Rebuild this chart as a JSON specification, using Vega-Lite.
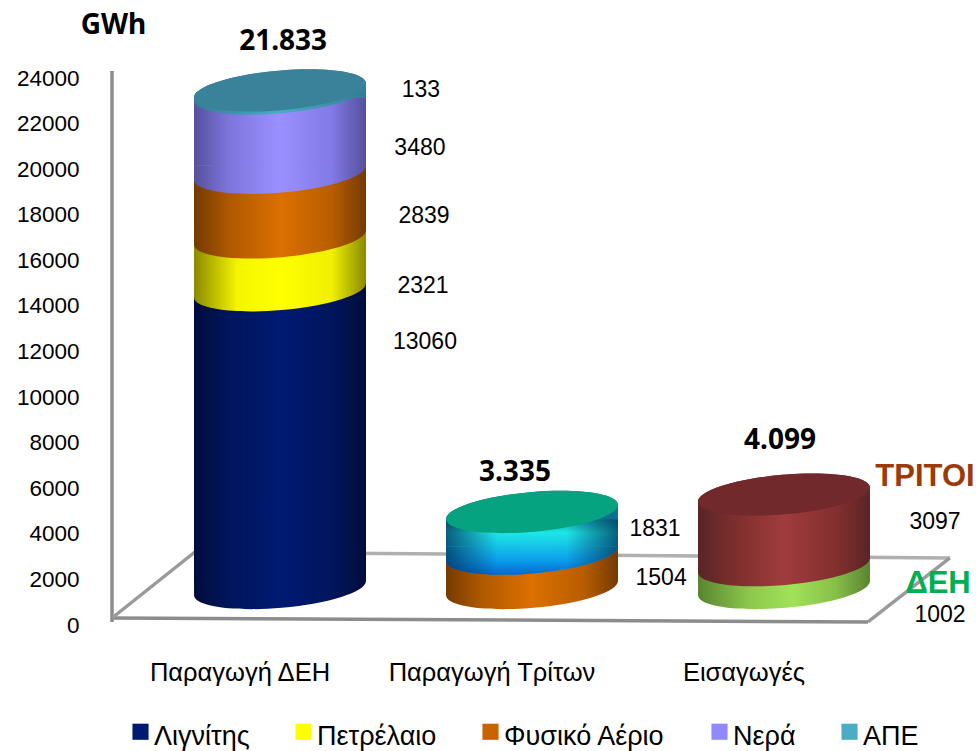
{"$schema":"https://vega.github.io/schema/vega-lite/v6.json","autosize":{"type":"none"},"padding":{"left":112,"top":78,"right":108,"bottom":126},"width":756,"height":547,"background":"white","config":{"view":{"stroke":null}},
"datasets":{
"energy":[
{"cat":"Παραγωγή ΔΕΗ","source":"Λιγνίτης","order":1,"value":13060},
{"cat":"Παραγωγή ΔΕΗ","source":"Πετρέλαιο","order":2,"value":2321},
{"cat":"Παραγωγή ΔΕΗ","source":"Φυσικό Αέριο","order":3,"value":2839},
{"cat":"Παραγωγή ΔΕΗ","source":"Νερά","order":4,"value":3480},
{"cat":"Παραγωγή ΔΕΗ","source":"ΑΠΕ","order":5,"value":133},
{"cat":"Παραγωγή Τρίτων","source":"Φυσικό Αέριο","order":1,"value":1504},
{"cat":"Παραγωγή Τρίτων","source":"Τρίτων","order":2,"value":1831},
{"cat":"Εισαγωγές","source":"ΔΕΗ","order":1,"value":1002},
{"cat":"Εισαγωγές","source":"ΤΡΙΤΟΙ","order":2,"value":3097}],
"floor":[
{"edge":"wall","u":0,"v":132},{"edge":"wall","u":0,"v":24309},
{"edge":"front","u":0,"v":307},{"edge":"front","u":3,"v":132},
{"edge":"left","u":0,"v":307},{"edge":"left","u":0.329,"v":3203},
{"edge":"back","u":0.329,"v":3203},{"edge":"back","u":3.325,"v":2940},
{"edge":"right","u":3.325,"v":2940},{"edge":"right","u":3,"v":132}],
"notes":[
{"text":"133","kind":"num","u":1.226,"v":23475},
{"text":"3480","kind":"num","u":1.222,"v":20930},
{"text":"2839","kind":"num","u":1.238,"v":17946},
{"text":"2321","kind":"num","u":1.234,"v":14875},
{"text":"13060","kind":"num","u":1.242,"v":12418},
{"text":"1831","kind":"num","u":2.155,"v":4212},
{"text":"1504","kind":"num","u":2.179,"v":2062},
{"text":"3097","kind":"num","u":3.266,"v":4520},
{"text":"1002","kind":"num","u":3.286,"v":439},
{"text":"21.833","kind":"total","u":0.679,"v":25581},
{"text":"3.335","kind":"total","u":1.599,"v":6670},
{"text":"4.099","kind":"total","u":2.651,"v":8074},
{"text":"ΤΡΙΤΟΙ","kind":"third","u":3.226,"v":6494},
{"text":"ΔΕΗ","kind":"dei","u":3.278,"v":1799}]},
"resolve":{"scale":{"x":"independent"}},
"layer":[
{"data":{"name":"floor"},"layer":[
{"mark":{"type":"line","strokeWidth":3.5},"encoding":{
"x":{"field":"u","type":"quantitative","scale":{"domain":[0,3]},"axis":null},
"y":{"field":"v","type":"quantitative","scale":{"domain":[0,24000]},"axis":{"values":[0,2000,4000,6000,8000,10000,12000,14000,16000,18000,20000,22000,24000],"format":"d","grid":false,"ticks":false,"domain":false,"labelFont":"Liberation Sans","labelFontSize":22.5,"labelColor":"#000000","labelPadding":33,"title":"GWh","titleFont":"Noto Sans","titleFontWeight":"bold","titleFontSize":28,"titleColor":"#000000","titleAngle":0,"titleX":1,"titleY":-53,"titleAlign":"center","titleBaseline":"middle"}},
"stroke":{"field":"edge","type":"nominal","legend":null,"scale":{"domain":["wall","front","left","back","right"],"range":["#8c8c8c","#8c8c8c","#9a9a9a","#b0b0b0","#9a9a9a"]}},
"detail":{"field":"edge"},"order":{"field":"v"}}}]},
{"data":{"name":"energy"},"transform":[{"stack":"value","groupby":["cat"],"sort":[{"field":"order","order":"ascending"}],"as":["y0","y1"]}],
"encoding":{"x":{"field":"cat","type":"nominal","sort":["Παραγωγή ΔΕΗ","Παραγωγή Τρίτων","Εισαγωγές"],"scale":{"type":"band","domain":["Παραγωγή ΔΕΗ","Παραγωγή Τρίτων","Εισαγωγές"],"paddingInner":0,"paddingOuter":0},"axis":{"title":null,"labelAngle":0,"domain":false,"ticks":false,"labelFont":"Liberation Sans","labelFontSize":25.5,"labelColor":"#000000","labelPadding":47,"labelLimit":400,"labelBaseline":"middle","labelOffset":2}}},
"layer":[
{"transform":[{"filter":"datum.source==='Λιγνίτης'"}],"encoding":{"fill":{"value":{"gradient":"linear","x1":0,"x2":1,"y1":0,"y2":0,"stops":[{"offset":0,"color":"#000c3c"},{"offset":0.2,"color":"#00155c"},{"offset":0.5,"color":"#001a72"},{"offset":0.8,"color":"#00155c"},{"offset":1,"color":"#000c3c"}]}}},"layer":[
{"mark":{"type":"bar","width":172,"xOffset":42,"yOffset":-37,"y2Offset":-44},"encoding":{"y":{"field":"y1","type":"quantitative"},"y2":{"field":"y0"}}},
{"mark":{"type":"point","filled":true,"opacity":1,"size":29796,"shape":"M-0.996,0.087C-1.007,-0.0395,-0.57,-0.181,-0.02,-0.229C0.53,-0.277,0.985,-0.2135,0.996,-0.087L0.996,0.087Z","xOffset":42,"yOffset":-37},"encoding":{"y":{"field":"y1","type":"quantitative"}}},
{"mark":{"type":"point","filled":true,"opacity":1,"size":29796,"shape":"M-0.996,0.087C-0.985,0.2135,-0.53,0.277,0.02,0.229C0.57,0.181,1.007,0.0395,0.996,-0.087L-0.996,-0.087Z","xOffset":42,"yOffset":-37},"encoding":{"y":{"field":"y0","type":"quantitative"}}}]},
{"transform":[{"filter":"datum.source==='Πετρέλαιο'"}],"encoding":{"fill":{"value":{"gradient":"linear","x1":0,"x2":1,"y1":0,"y2":0,"stops":[{"offset":0,"color":"#8a8a00"},{"offset":0.25,"color":"#f4f400"},{"offset":0.5,"color":"#ffff00"},{"offset":0.8,"color":"#f0f000"},{"offset":1,"color":"#8a8a00"}]}}},"layer":[
{"mark":{"type":"bar","width":172,"xOffset":42,"yOffset":-37,"y2Offset":-44},"encoding":{"y":{"field":"y1","type":"quantitative"},"y2":{"field":"y0"}}},
{"mark":{"type":"point","filled":true,"opacity":1,"size":29796,"shape":"M-0.996,0.087C-1.007,-0.0395,-0.57,-0.181,-0.02,-0.229C0.53,-0.277,0.985,-0.2135,0.996,-0.087L0.996,0.087Z","xOffset":42,"yOffset":-37},"encoding":{"y":{"field":"y1","type":"quantitative"}}},
{"mark":{"type":"point","filled":true,"opacity":1,"size":29796,"shape":"M-0.996,0.087C-0.985,0.2135,-0.53,0.277,0.02,0.229C0.57,0.181,1.007,0.0395,0.996,-0.087L-0.996,-0.087Z","xOffset":42,"yOffset":-37},"encoding":{"y":{"field":"y0","type":"quantitative"}}}]},
{"transform":[{"filter":"datum.source==='Φυσικό Αέριο'"}],"encoding":{"fill":{"value":{"gradient":"linear","x1":0,"x2":1,"y1":0,"y2":0,"stops":[{"offset":0,"color":"#743a00"},{"offset":0.2,"color":"#ae5800"},{"offset":0.5,"color":"#dc7000"},{"offset":0.8,"color":"#b85d00"},{"offset":1,"color":"#743a00"}]}}},"layer":[
{"mark":{"type":"bar","width":172,"xOffset":42,"yOffset":-37,"y2Offset":-44},"encoding":{"y":{"field":"y1","type":"quantitative"},"y2":{"field":"y0"}}},
{"mark":{"type":"point","filled":true,"opacity":1,"size":29796,"shape":"M-0.996,0.087C-1.007,-0.0395,-0.57,-0.181,-0.02,-0.229C0.53,-0.277,0.985,-0.2135,0.996,-0.087L0.996,0.087Z","xOffset":42,"yOffset":-37},"encoding":{"y":{"field":"y1","type":"quantitative"}}},
{"mark":{"type":"point","filled":true,"opacity":1,"size":29796,"shape":"M-0.996,0.087C-0.985,0.2135,-0.53,0.277,0.02,0.229C0.57,0.181,1.007,0.0395,0.996,-0.087L-0.996,-0.087Z","xOffset":42,"yOffset":-37},"encoding":{"y":{"field":"y0","type":"quantitative"}}}]},
{"transform":[{"filter":"datum.source==='Νερά'"}],"encoding":{"fill":{"value":{"gradient":"linear","x1":0,"x2":1,"y1":0,"y2":0,"stops":[{"offset":0,"color":"#55509c"},{"offset":0.2,"color":"#7d75dc"},{"offset":0.5,"color":"#9a90ff"},{"offset":0.8,"color":"#827ae6"},{"offset":1,"color":"#55509c"}]}}},"layer":[
{"mark":{"type":"bar","width":172,"xOffset":42,"yOffset":-30,"y2Offset":-44},"encoding":{"y":{"field":"y1","type":"quantitative"},"y2":{"field":"y0"}}},
{"mark":{"type":"point","filled":true,"opacity":1,"size":29796,"shape":"M-0.996,0.087C-1.007,-0.0395,-0.57,-0.181,-0.02,-0.229C0.53,-0.277,0.985,-0.2135,0.996,-0.087L0.996,0.087Z","xOffset":42,"yOffset":-37},"encoding":{"y":{"field":"y1","type":"quantitative"}}},
{"mark":{"type":"point","filled":true,"opacity":1,"size":29796,"shape":"M-0.996,0.087C-0.985,0.2135,-0.53,0.277,0.02,0.229C0.57,0.181,1.007,0.0395,0.996,-0.087L-0.996,-0.087Z","xOffset":42,"yOffset":-37},"encoding":{"y":{"field":"y0","type":"quantitative"}}}]},
{"transform":[{"filter":"datum.source==='ΑΠΕ'"}],"encoding":{"fill":{"value":{"gradient":"linear","x1":0,"x2":1,"y1":0,"y2":0,"stops":[{"offset":0,"color":"#2f7e96"},{"offset":0.5,"color":"#4bacc6"},{"offset":1,"color":"#2f7e96"}]}}},"layer":[
{"mark":{"type":"point","filled":true,"opacity":1,"size":29796,"shape":"M-0.996,0.087C-1.007,-0.0395,-0.57,-0.181,-0.02,-0.229C0.53,-0.277,0.985,-0.2135,0.996,-0.087L0.996,0.087Z","xOffset":42,"yOffset":-37},"encoding":{"y":{"field":"y1","type":"quantitative"}}},
{"mark":{"type":"point","filled":true,"opacity":1,"size":29796,"shape":"M-0.996,0.087C-0.985,0.2135,-0.53,0.277,0.02,0.229C0.57,0.181,1.007,0.0395,0.996,-0.087C0.985,-0.2135,0.53,-0.277,-0.02,-0.229C-0.57,-0.181,-1.007,-0.0395,-0.996,0.087Z","xOffset":42,"yOffset":-37},"encoding":{"y":{"field":"y0","type":"quantitative"}}}]},
{"transform":[{"filter":"datum.source==='Τρίτων'"}],"layer":[
{"mark":{"type":"bar","width":172,"xOffset":42,"yOffset":-30,"y2Offset":-44},"encoding":{"y":{"field":"y1","type":"quantitative"},"y2":{"field":"y0"},"fill":{"value":{"gradient":"linear","x1":0,"x2":0,"y1":0,"y2":1,"stops":[{"offset":0,"color":"#0aa0a8"},{"offset":0.5,"color":"#1ee6e6"},{"offset":1,"color":"#14c4ea"}]}}}},
{"mark":{"type":"bar","width":172,"xOffset":42,"yOffset":-30,"y2Offset":-44},"encoding":{"y":{"field":"y1","type":"quantitative"},"y2":{"field":"y0"},"fill":{"value":{"gradient":"linear","x1":0,"x2":1,"y1":0,"y2":0,"stops":[{"offset":0,"color":"rgba(0,40,80,0.7)"},{"offset":0.3,"color":"rgba(0,40,80,0)"},{"offset":0.7,"color":"rgba(0,40,80,0)"},{"offset":1,"color":"rgba(0,40,80,0.7)"}]}}}},
{"mark":{"type":"point","filled":true,"opacity":1,"size":29796,"shape":"M-0.996,0.087C-1.007,-0.0395,-0.57,-0.181,-0.02,-0.229C0.53,-0.277,0.985,-0.2135,0.996,-0.087L0.996,0.087Z","xOffset":42,"yOffset":-37},"encoding":{"y":{"field":"y1","type":"quantitative"},"fill":{"value":"#0a6f90"}}},
{"mark":{"type":"point","filled":true,"opacity":1,"size":29796,"shape":"M-0.996,0.087C-0.985,0.2135,-0.53,0.277,0.02,0.229C0.57,0.181,1.007,0.0395,0.996,-0.087L-0.996,-0.087Z","xOffset":42,"yOffset":-37},"encoding":{"y":{"field":"y0","type":"quantitative"},"fill":{"value":{"gradient":"linear","x1":0,"x2":0,"y1":0,"y2":1,"stops":[{"offset":0,"color":"#14c4ea"},{"offset":0.55,"color":"#0a98e8"},{"offset":1,"color":"#0068d0"}]}}}},
{"mark":{"type":"point","filled":true,"opacity":1,"size":29796,"shape":"M-0.996,0.087C-0.985,0.2135,-0.53,0.277,0.02,0.229C0.57,0.181,1.007,0.0395,0.996,-0.087L-0.996,-0.087Z","xOffset":42,"yOffset":-37},"encoding":{"y":{"field":"y0","type":"quantitative"},"fill":{"value":{"gradient":"linear","x1":0,"x2":1,"y1":0,"y2":0,"stops":[{"offset":0,"color":"rgba(0,40,80,0.7)"},{"offset":0.3,"color":"rgba(0,40,80,0)"},{"offset":0.7,"color":"rgba(0,40,80,0)"},{"offset":1,"color":"rgba(0,40,80,0.7)"}]}}}}]},
{"transform":[{"filter":"datum.source==='ΔΕΗ'"}],"encoding":{"fill":{"value":{"gradient":"linear","x1":0,"x2":1,"y1":0,"y2":0,"stops":[{"offset":0,"color":"#5a8430"},{"offset":0.3,"color":"#8cc84c"},{"offset":0.55,"color":"#a2e258"},{"offset":0.8,"color":"#86bf48"},{"offset":1,"color":"#5a8430"}]}}},"layer":[
{"mark":{"type":"bar","width":172,"xOffset":42,"yOffset":-37,"y2Offset":-44},"encoding":{"y":{"field":"y1","type":"quantitative"},"y2":{"field":"y0"}}},
{"mark":{"type":"point","filled":true,"opacity":1,"size":29796,"shape":"M-0.996,0.087C-1.007,-0.0395,-0.57,-0.181,-0.02,-0.229C0.53,-0.277,0.985,-0.2135,0.996,-0.087L0.996,0.087Z","xOffset":42,"yOffset":-37},"encoding":{"y":{"field":"y1","type":"quantitative"}}},
{"mark":{"type":"point","filled":true,"opacity":1,"size":29796,"shape":"M-0.996,0.087C-0.985,0.2135,-0.53,0.277,0.02,0.229C0.57,0.181,1.007,0.0395,0.996,-0.087L-0.996,-0.087Z","xOffset":42,"yOffset":-37},"encoding":{"y":{"field":"y0","type":"quantitative"}}}]},
{"transform":[{"filter":"datum.source==='ΤΡΙΤΟΙ'"}],"encoding":{"fill":{"value":{"gradient":"linear","x1":0,"x2":1,"y1":0,"y2":0,"stops":[{"offset":0,"color":"#5a2425"},{"offset":0.25,"color":"#83302f"},{"offset":0.5,"color":"#a03b3c"},{"offset":0.8,"color":"#83302f"},{"offset":1,"color":"#5a2425"}]}}},"layer":[
{"mark":{"type":"bar","width":172,"xOffset":42,"yOffset":-30,"y2Offset":-44},"encoding":{"y":{"field":"y1","type":"quantitative"},"y2":{"field":"y0"}}},
{"mark":{"type":"point","filled":true,"opacity":1,"size":29796,"shape":"M-0.996,0.087C-1.007,-0.0395,-0.57,-0.181,-0.02,-0.229C0.53,-0.277,0.985,-0.2135,0.996,-0.087L0.996,0.087Z","xOffset":42,"yOffset":-37},"encoding":{"y":{"field":"y1","type":"quantitative"}}},
{"mark":{"type":"point","filled":true,"opacity":1,"size":29796,"shape":"M-0.996,0.087C-0.985,0.2135,-0.53,0.277,0.02,0.229C0.57,0.181,1.007,0.0395,0.996,-0.087L-0.996,-0.087Z","xOffset":42,"yOffset":-37},"encoding":{"y":{"field":"y0","type":"quantitative"}}}]},
{"transform":[{"joinaggregate":[{"op":"max","field":"y1","as":"top"}],"groupby":["cat"]},{"filter":"datum.y1===datum.top"}],
"mark":{"type":"point","filled":true,"opacity":1,"size":29796,"shape":"M-0.996,0.087C-0.985,0.2135,-0.53,0.277,0.02,0.229C0.57,0.181,1.007,0.0395,0.996,-0.087C0.985,-0.2135,0.53,-0.277,-0.02,-0.229C-0.57,-0.181,-1.007,-0.0395,-0.996,0.087Z","xOffset":42,"yOffset":-37},"encoding":{
"y":{"field":"y1","type":"quantitative"},
"fill":{"field":"cat","type":"nominal","legend":null,"scale":{"domain":["Παραγωγή ΔΕΗ","Παραγωγή Τρίτων","Εισαγωγές"],"range":["#3a8299","#05a380","#72292b"]}}}},
{"transform":[{"filter":"indexof(['Λιγνίτης','Πετρέλαιο','Φυσικό Αέριο','Νερά','ΑΠΕ'],datum.source)>=0"}],
"mark":{"type":"point","filled":true,"shape":"square","size":1,"opacity":0},"encoding":{
"y":{"field":"y0","type":"quantitative"},
"color":{"field":"source","type":"nominal","scale":{"domain":["Λιγνίτης","Πετρέλαιο","Φυσικό Αέριο","Νερά","ΑΠΕ"],"range":["#001a72","#ffff00","#c86400","#9088ff","#4bacc6"]},
"legend":{"title":null,"orient":"none","legendX":15,"legendY":640,"direction":"horizontal","columns":5,"symbolType":"square","symbolSize":260,"symbolOpacity":1,"symbolStrokeWidth":0,"labelFont":"Liberation Sans","labelFontSize":27,"labelColor":"#000000","labelOffset":0,"columnPadding":40,"labelLimit":300,"padding":0,"encode":{"labels":{"update":{"dy":{"value":5}}}}}}}}
]},
{"data":{"name":"notes"},"encoding":{"x":{"field":"u","type":"quantitative","scale":{"domain":[0,3]},"axis":null},"y":{"field":"v","type":"quantitative"},"text":{"field":"text","type":"nominal"}},
"layer":[
{"transform":[{"filter":"datum.kind==='num'"}],"mark":{"type":"text","font":"Liberation Sans","fontSize":23,"color":"#000000","align":"center","baseline":"middle"}},
{"transform":[{"filter":"datum.kind==='total'"}],"mark":{"type":"text","font":"Noto Sans","fontWeight":"bold","fontSize":28,"color":"#000000","align":"center","baseline":"middle"}},
{"transform":[{"filter":"datum.kind==='third'"}],"mark":{"type":"text","font":"Liberation Sans","fontWeight":"bold","fontSize":31,"color":"#9c3a0a","align":"center","baseline":"middle"}},
{"transform":[{"filter":"datum.kind==='dei'"}],"mark":{"type":"text","font":"Liberation Sans","fontWeight":"bold","fontSize":31,"color":"#00b050","align":"center","baseline":"middle"}}
]}
]}
